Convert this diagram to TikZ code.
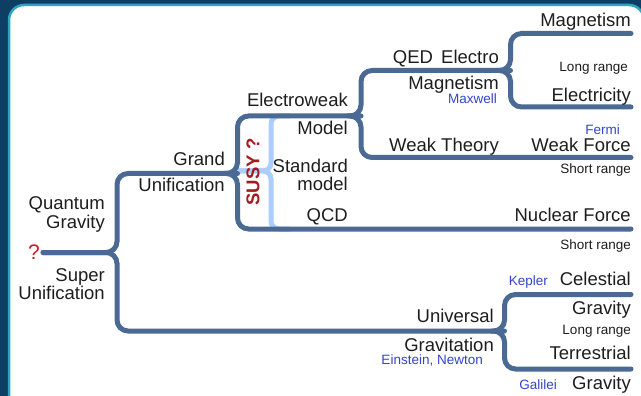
\documentclass[tikz,border=0pt]{standalone}
\usepackage{fontspec}
\setmainfont{Liberation Sans}
\definecolor{framebg}{RGB}{14,62,100}
\definecolor{frameedge}{RGB}{45,165,190}
\definecolor{branch}{RGB}{74,106,148}
\definecolor{susyblue}{RGB}{172,206,250}
\definecolor{ink}{RGB}{30,30,30}
\definecolor{who}{RGB}{50,70,200}
\definecolor{qred}{RGB}{200,30,40}
\definecolor{susyred}{RGB}{165,28,32}
\newcommand\lblfont{\fontsize{18.5}{20}\selectfont}
\newcommand\smlfont{\fontsize{13.5}{15}\selectfont}
\tikzset{
  trunk/.style={draw=branch, line width=5pt, line cap=round, rounded corners=11pt},
  susyline/.style={draw=susyblue, line width=5pt, rounded corners=8pt},
  lbl/.style={anchor=base east, inner sep=0pt, text=ink, font=\lblfont},
  rng/.style={anchor=base east, inner sep=0pt, text=ink, font=\smlfont},
  person/.style={anchor=base east, inner sep=0pt, text=who, font=\smlfont},
}
\begin{document}
\begin{tikzpicture}[x=1pt, y=-1pt]
\useasboundingbox (0,0) rectangle (641,396);
% frame
\fill[framebg] (0,0) rectangle (641,396);
\begin{scope}
  \clip (0,0) rectangle (641,396);
  \filldraw[fill=white, draw=frameedge, line width=2.5pt, rounded corners=15pt]
    (9,5) rectangle (644,440);
\end{scope}

% branch points and leaf ends
\coordinate (r0) at (43,252.5);
\coordinate (j1) at (117,252.5);
\coordinate (j2) at (237.5,173.5);
\coordinate (j3) at (361,116);
\coordinate (j4) at (510.5,70.5);
\coordinate (j5) at (504.5,331);
\coordinate (l1) at (631,33.5);
\coordinate (l2) at (631,107);
\coordinate (l3) at (631,157.5);
\coordinate (l4) at (631,229);
\coordinate (l5) at (631,294.5);
\coordinate (l6) at (631,369);
% SUSY brace
\coordinate (sb) at (271,171);
\coordinate (st) at (290,116);
\coordinate (sd) at (290,229);

\draw[susyline] (j2 |- sb) -- (sb) |- (st);
\draw[susyline] (j2 |- sb) -- (sb) |- (sd);

\draw[trunk] (r0) -- (j1) |- (j2) |- (j3) |- (j4) |- (l1);
\draw[trunk] (j4) -- ++(-20,0) -- (j4) |- (l2);
\draw[trunk] (j3) -- ++(-20,0) -- (j3) |- (l3);
\draw[trunk] (j2) -- ++(-20,0) -- (j2) |- (l4);
\draw[trunk] (r0) -- (j1) |- (j5) |- (l5);
\draw[trunk] (j5) -- ++(-20,0) -- (j5) |- (l6);

% root
\node[anchor=base east, inner sep=0pt, text=qred, font=\fontsize{21}{22}\selectfont] (q) at (40,259) {?};
\node[lbl] (qg1) at (105,209) {Quantum};
\node[lbl] (qg2) at (105,229) {Gravity};
\node[lbl] (su1) at (105,281) {Super};
\node[lbl] (su2) at (105,299) {Unification};

% grand unification
\node[lbl] (gu1) at (225,166) {Grand};
\node[lbl] (gu2) at (225,192) {Unification};
\node[rotate=90, inner sep=0pt, text=susyred, font=\fontsize{18.5}{20}\selectfont\bfseries] (susy) at (253,172) {SUSY ?};

% standard model
\node[lbl] (ew) at (348,107) {Electroweak};
\node[lbl] (sm0) at (348,135) {Model};
\node[lbl] (sm1) at (348,172) {Standard};
\node[lbl] (sm2) at (348,190) {model};
\node[lbl] (qcd) at (348,222) {QCD};

% electroweak branch
\node[lbl] (qed1) at (499,64) {QED\, Electro};
\node[lbl] (qed2) at (499,90) {Magnetism};
\node[person] (maxw) at (497,103) {Maxwell};
\node[lbl] (wt) at (499,152) {Weak Theory};

% leaves, top group
\node[lbl] (mag) at (631,27) {Magnetism};
\node[rng] (lr1) at (628,72) {Long range};
\node[lbl] (ele) at (631,102) {Electricity};
\node[person] (fermi) at (620,135) {Fermi};
\node[lbl] (wf) at (631,152) {Weak Force};
\node[rng] (sr1) at (631,174) {Short range};
\node[lbl] (nf) at (631,221) {Nuclear Force};
\node[rng] (sr2) at (631,249) {Short range};

% gravitation
\node[lbl] (ug1) at (494,322) {Universal};
\node[lbl] (ug2) at (494,351) {Gravitation};
\node[person] (ein) at (483,364) {Einstein, Newton};
\node[person] (kep) at (548,285) {Kepler};
\node[lbl] (cel1) at (631,285) {Celestial};
\node[lbl] (cel2) at (631,314) {Gravity};
\node[rng] (lr2) at (631,334) {Long range};
\node[lbl] (ter1) at (631,359) {Terrestrial};
\node[person] (gal) at (557,389) {Galilei};
\node[lbl] (ter2) at (631,389) {Gravity};
\end{tikzpicture}
\end{document}
